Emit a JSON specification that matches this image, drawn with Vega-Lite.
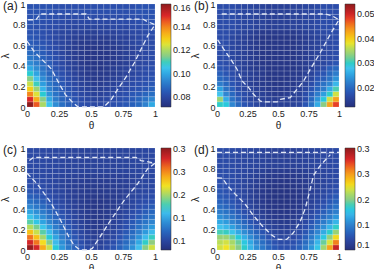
{
  "$schema": "https://vega.github.io/schema/vega-lite/v6.json",
  "padding": {"left": 0, "top": 0, "right": 0, "bottom": 0},
  "config": {
    "font": "Liberation Sans",
    "view": {"stroke": null},
    "axis": {"labelFontSize": 9, "titleFontSize": 10, "ticks": false, "domain": false, "grid": false, "labelColor": "#222222", "titleColor": "#222222", "labelPadding": 2, "titleFontWeight": "normal", "titlePadding": 2, "labelOverlap": false, "labelBound": false, "labelFlush": false, "labelExpr": "format(datum.value, '~g')"},
    "legend": {"type": "gradient", "direction": "vertical", "orient": "right", "offset": 3, "padding": 0, "gradientThickness": 10, "labelFontSize": 9, "labelColor": "#222222", "labelOffset": 2, "labelOverlap": false, "gradientStrokeColor": "#333333", "gradientStrokeWidth": 0.5, "title": null, "labelExpr": "format(datum.value, '~g')"},
    "title": {"anchor": "start", "frame": "group", "fontSize": 12, "fontWeight": "normal", "color": "#222222", "offset": 0}
  },
  "datasets": {
    "cells": [
      {"p":"a","l":0,"l2":0.05,"t":[0,0.05,0.1,0.15,0.2,0.25,0.3,0.35,0.4,0.45,0.5,0.55,0.6,0.65,0.7,0.75,0.8,0.85,0.9,0.95],"u":[0.05,0.1,0.15,0.2,0.25,0.3,0.35,0.4,0.45,0.5,0.55,0.6,0.65,0.7,0.75,0.8,0.85,0.9,0.95,1],"v":[0.160,0.145,0.120,0.105,0.095,0.089,0.086,0.084,0.082,0.081,0.080,0.080,0.081,0.082,0.083,0.084,0.086,0.088,0.093,0.100]},
      {"p":"a","l":0.05,"l2":0.1,"t":[0,0.05,0.1,0.15,0.2,0.25,0.3,0.35,0.4,0.45,0.5,0.55,0.6,0.65,0.7,0.75,0.8,0.85,0.9,0.95],"u":[0.05,0.1,0.15,0.2,0.25,0.3,0.35,0.4,0.45,0.5,0.55,0.6,0.65,0.7,0.75,0.8,0.85,0.9,0.95,1],"v":[0.150,0.135,0.115,0.100,0.092,0.087,0.085,0.083,0.081,0.080,0.079,0.079,0.080,0.081,0.082,0.083,0.085,0.087,0.090,0.094]},
      {"p":"a","l":0.1,"l2":0.15,"t":[0,0.05,0.1,0.15,0.2,0.25,0.3,0.35,0.4,0.45,0.5,0.55,0.6,0.65,0.7,0.75,0.8,0.85,0.9,0.95],"u":[0.05,0.1,0.15,0.2,0.25,0.3,0.35,0.4,0.45,0.5,0.55,0.6,0.65,0.7,0.75,0.8,0.85,0.9,0.95,1],"v":[0.140,0.125,0.108,0.096,0.090,0.086,0.084,0.082,0.080,0.079,0.078,0.078,0.079,0.080,0.081,0.082,0.084,0.085,0.087,0.089]},
      {"p":"a","l":0.15,"l2":0.2,"t":[0,0.05,0.1,0.15,0.2,0.25,0.3,0.35,0.4,0.45,0.5,0.55,0.6,0.65,0.7,0.75,0.8,0.85,0.9,0.95],"u":[0.05,0.1,0.15,0.2,0.25,0.3,0.35,0.4,0.45,0.5,0.55,0.6,0.65,0.7,0.75,0.8,0.85,0.9,0.95,1],"v":[0.130,0.118,0.102,0.093,0.088,0.085,0.083,0.081,0.079,0.078,0.077,0.077,0.078,0.079,0.080,0.081,0.082,0.083,0.084,0.086]},
      {"p":"a","l":0.2,"l2":0.25,"t":[0,0.05,0.1,0.15,0.2,0.25,0.3,0.35,0.4,0.45,0.5,0.55,0.6,0.65,0.7,0.75,0.8,0.85,0.9,0.95],"u":[0.05,0.1,0.15,0.2,0.25,0.3,0.35,0.4,0.45,0.5,0.55,0.6,0.65,0.7,0.75,0.8,0.85,0.9,0.95,1],"v":[0.123,0.110,0.098,0.091,0.087,0.084,0.082,0.080,0.078,0.077,0.076,0.076,0.077,0.078,0.079,0.080,0.081,0.082,0.083,0.084]},
      {"p":"a","l":0.25,"l2":0.3,"t":[0,0.05,0.1,0.15,0.2,0.25,0.3,0.35,0.4,0.45,0.5,0.55,0.6,0.65,0.7,0.75,0.8,0.85,0.9,0.95],"u":[0.05,0.1,0.15,0.2,0.25,0.3,0.35,0.4,0.45,0.5,0.55,0.6,0.65,0.7,0.75,0.8,0.85,0.9,0.95,1],"v":[0.115,0.104,0.095,0.089,0.086,0.083,0.081,0.079,0.077,0.076,0.075,0.075,0.076,0.077,0.078,0.079,0.080,0.081,0.082,0.083]},
      {"p":"a","l":0.3,"l2":0.35,"t":[0,0.05,0.1,0.15,0.2,0.25,0.3,0.35,0.4,0.45,0.5,0.55,0.6,0.65,0.7,0.75,0.8,0.85,0.9,0.95],"u":[0.05,0.1,0.15,0.2,0.25,0.3,0.35,0.4,0.45,0.5,0.55,0.6,0.65,0.7,0.75,0.8,0.85,0.9,0.95,1],"v":[0.108,0.099,0.092,0.087,0.084,0.082,0.080,0.078,0.076,0.075,0.075,0.075,0.075,0.076,0.077,0.078,0.079,0.080,0.081,0.082]},
      {"p":"a","l":0.35,"l2":0.4,"t":[0,0.05,0.1,0.15,0.2,0.25,0.3,0.35,0.4,0.45,0.5,0.55,0.6,0.65,0.7,0.75,0.8,0.85,0.9,0.95],"u":[0.05,0.1,0.15,0.2,0.25,0.3,0.35,0.4,0.45,0.5,0.55,0.6,0.65,0.7,0.75,0.8,0.85,0.9,0.95,1],"v":[0.100,0.095,0.090,0.086,0.083,0.081,0.079,0.077,0.076,0.075,0.074,0.074,0.075,0.076,0.077,0.078,0.079,0.080,0.081,0.082]},
      {"p":"a","l":0.4,"l2":0.45,"t":[0,0.05,0.1,0.15,0.2,0.25,0.3,0.35,0.4,0.45,0.5,0.55,0.6,0.65,0.7,0.75,0.8,0.85,0.9,0.95],"u":[0.05,0.1,0.15,0.2,0.25,0.3,0.35,0.4,0.45,0.5,0.55,0.6,0.65,0.7,0.75,0.8,0.85,0.9,0.95,1],"v":[0.095,0.092,0.088,0.085,0.082,0.080,0.078,0.077,0.075,0.074,0.074,0.074,0.075,0.075,0.076,0.077,0.078,0.079,0.080,0.081]},
      {"p":"a","l":0.45,"l2":0.5,"t":[0,0.05,0.1,0.15,0.2,0.25,0.3,0.35,0.4,0.45,0.5,0.55,0.6,0.65,0.7,0.75,0.8,0.85,0.9,0.95],"u":[0.05,0.1,0.15,0.2,0.25,0.3,0.35,0.4,0.45,0.5,0.55,0.6,0.65,0.7,0.75,0.8,0.85,0.9,0.95,1],"v":[0.091,0.089,0.086,0.084,0.082,0.080,0.078,0.076,0.075,0.074,0.074,0.074,0.074,0.075,0.076,0.077,0.078,0.079,0.080,0.081]},
      {"p":"a","l":0.5,"l2":0.55,"t":[0,0.05,0.1,0.15,0.2,0.25,0.3,0.35,0.4,0.45,0.5,0.55,0.6,0.65,0.7,0.75,0.8,0.85,0.9,0.95],"u":[0.05,0.1,0.15,0.2,0.25,0.3,0.35,0.4,0.45,0.5,0.55,0.6,0.65,0.7,0.75,0.8,0.85,0.9,0.95,1],"v":[0.088,0.087,0.085,0.083,0.081,0.079,0.077,0.076,0.075,0.074,0.074,0.074,0.074,0.075,0.076,0.077,0.078,0.079,0.080,0.081]},
      {"p":"a","l":0.55,"l2":0.6,"t":[0,0.05,0.1,0.15,0.2,0.25,0.3,0.35,0.4,0.45,0.5,0.55,0.6,0.65,0.7,0.75,0.8,0.85,0.9,0.95],"u":[0.05,0.1,0.15,0.2,0.25,0.3,0.35,0.4,0.45,0.5,0.55,0.6,0.65,0.7,0.75,0.8,0.85,0.9,0.95,1],"v":[0.086,0.085,0.084,0.082,0.081,0.079,0.077,0.076,0.075,0.074,0.074,0.074,0.075,0.075,0.076,0.077,0.078,0.079,0.080,0.081]},
      {"p":"a","l":0.6,"l2":0.65,"t":[0,0.05,0.1,0.15,0.2,0.25,0.3,0.35,0.4,0.45,0.5,0.55,0.6,0.65,0.7,0.75,0.8,0.85,0.9,0.95],"u":[0.05,0.1,0.15,0.2,0.25,0.3,0.35,0.4,0.45,0.5,0.55,0.6,0.65,0.7,0.75,0.8,0.85,0.9,0.95,1],"v":[0.085,0.084,0.083,0.082,0.080,0.079,0.078,0.076,0.075,0.075,0.075,0.075,0.075,0.076,0.077,0.078,0.079,0.080,0.080,0.081]},
      {"p":"a","l":0.65,"l2":0.7,"t":[0,0.05,0.1,0.15,0.2,0.25,0.3,0.35,0.4,0.45,0.5,0.55,0.6,0.65,0.7,0.75,0.8,0.85,0.9,0.95],"u":[0.05,0.1,0.15,0.2,0.25,0.3,0.35,0.4,0.45,0.5,0.55,0.6,0.65,0.7,0.75,0.8,0.85,0.9,0.95,1],"v":[0.084,0.083,0.082,0.081,0.080,0.079,0.078,0.077,0.076,0.076,0.076,0.076,0.076,0.077,0.078,0.078,0.079,0.080,0.081,0.081]},
      {"p":"a","l":0.7,"l2":0.75,"t":[0,0.05,0.1,0.15,0.2,0.25,0.3,0.35,0.4,0.45,0.5,0.55,0.6,0.65,0.7,0.75,0.8,0.85,0.9,0.95],"u":[0.05,0.1,0.15,0.2,0.25,0.3,0.35,0.4,0.45,0.5,0.55,0.6,0.65,0.7,0.75,0.8,0.85,0.9,0.95,1],"v":[0.083,0.083,0.082,0.081,0.080,0.079,0.079,0.078,0.078,0.077,0.077,0.078,0.078,0.078,0.079,0.079,0.080,0.080,0.081,0.082]},
      {"p":"a","l":0.75,"l2":0.8,"t":[0,0.05,0.1,0.15,0.2,0.25,0.3,0.35,0.4,0.45,0.5,0.55,0.6,0.65,0.7,0.75,0.8,0.85,0.9,0.95],"u":[0.05,0.1,0.15,0.2,0.25,0.3,0.35,0.4,0.45,0.5,0.55,0.6,0.65,0.7,0.75,0.8,0.85,0.9,0.95,1],"v":[0.083,0.082,0.082,0.081,0.081,0.080,0.080,0.079,0.079,0.079,0.079,0.079,0.079,0.080,0.080,0.080,0.081,0.081,0.082,0.082]},
      {"p":"a","l":0.8,"l2":0.85,"t":[0,0.05,0.1,0.15,0.2,0.25,0.3,0.35,0.4,0.45,0.5,0.55,0.6,0.65,0.7,0.75,0.8,0.85,0.9,0.95],"u":[0.05,0.1,0.15,0.2,0.25,0.3,0.35,0.4,0.45,0.5,0.55,0.6,0.65,0.7,0.75,0.8,0.85,0.9,0.95,1],"v":[0.083,0.083,0.082,0.082,0.081,0.081,0.080,0.080,0.080,0.080,0.080,0.080,0.080,0.080,0.081,0.081,0.081,0.082,0.082,0.083]},
      {"p":"a","l":0.85,"l2":0.9,"t":[0,0.05,0.1,0.15,0.2,0.25,0.3,0.35,0.4,0.45,0.5,0.55,0.6,0.65,0.7,0.75,0.8,0.85,0.9,0.95],"u":[0.05,0.1,0.15,0.2,0.25,0.3,0.35,0.4,0.45,0.5,0.55,0.6,0.65,0.7,0.75,0.8,0.85,0.9,0.95,1],"v":[0.083,0.083,0.083,0.082,0.082,0.081,0.081,0.081,0.081,0.081,0.081,0.081,0.081,0.081,0.081,0.082,0.082,0.082,0.083,0.083]},
      {"p":"a","l":0.9,"l2":0.95,"t":[0,0.05,0.1,0.15,0.2,0.25,0.3,0.35,0.4,0.45,0.5,0.55,0.6,0.65,0.7,0.75,0.8,0.85,0.9,0.95],"u":[0.05,0.1,0.15,0.2,0.25,0.3,0.35,0.4,0.45,0.5,0.55,0.6,0.65,0.7,0.75,0.8,0.85,0.9,0.95,1],"v":[0.083,0.083,0.083,0.083,0.082,0.082,0.082,0.082,0.082,0.082,0.082,0.082,0.082,0.082,0.082,0.082,0.082,0.083,0.083,0.083]},
      {"p":"a","l":0.95,"l2":1,"t":[0,0.05,0.1,0.15,0.2,0.25,0.3,0.35,0.4,0.45,0.5,0.55,0.6,0.65,0.7,0.75,0.8,0.85,0.9,0.95],"u":[0.05,0.1,0.15,0.2,0.25,0.3,0.35,0.4,0.45,0.5,0.55,0.6,0.65,0.7,0.75,0.8,0.85,0.9,0.95,1],"v":[0.083,0.083,0.083,0.083,0.082,0.082,0.082,0.082,0.082,0.082,0.082,0.082,0.082,0.082,0.082,0.082,0.082,0.083,0.083,0.083]},

      {"p":"b","l":0,"l2":0.05,"t":[0,0.05,0.1,0.15,0.2,0.25,0.3,0.35,0.4,0.45,0.5,0.55,0.6,0.65,0.7,0.75,0.8,0.85,0.9,0.95],"u":[0.05,0.1,0.15,0.2,0.25,0.3,0.35,0.4,0.45,0.5,0.55,0.6,0.65,0.7,0.75,0.8,0.85,0.9,0.95,1],"v":[0.030,0.029,0.023,0.020,0.018,0.017,0.016,0.0155,0.015,0.015,0.015,0.015,0.0155,0.016,0.018,0.021,0.026,0.033,0.043,0.048]},
      {"p":"b","l":0.05,"l2":0.1,"t":[0,0.05,0.1,0.15,0.2,0.25,0.3,0.35,0.4,0.45,0.5,0.55,0.6,0.65,0.7,0.75,0.8,0.85,0.9,0.95],"u":[0.05,0.1,0.15,0.2,0.25,0.3,0.35,0.4,0.45,0.5,0.55,0.6,0.65,0.7,0.75,0.8,0.85,0.9,0.95,1],"v":[0.034,0.026,0.021,0.019,0.017,0.016,0.0155,0.015,0.015,0.0145,0.0145,0.015,0.015,0.0155,0.017,0.020,0.024,0.029,0.037,0.043]},
      {"p":"b","l":0.1,"l2":0.15,"t":[0,0.05,0.1,0.15,0.2,0.25,0.3,0.35,0.4,0.45,0.5,0.55,0.6,0.65,0.7,0.75,0.8,0.85,0.9,0.95],"u":[0.05,0.1,0.15,0.2,0.25,0.3,0.35,0.4,0.45,0.5,0.55,0.6,0.65,0.7,0.75,0.8,0.85,0.9,0.95,1],"v":[0.028,0.023,0.020,0.018,0.017,0.016,0.015,0.015,0.0145,0.014,0.014,0.0145,0.015,0.0155,0.017,0.019,0.022,0.025,0.030,0.037]},
      {"p":"b","l":0.15,"l2":0.2,"t":[0,0.05,0.1,0.15,0.2,0.25,0.3,0.35,0.4,0.45,0.5,0.55,0.6,0.65,0.7,0.75,0.8,0.85,0.9,0.95],"u":[0.05,0.1,0.15,0.2,0.25,0.3,0.35,0.4,0.45,0.5,0.55,0.6,0.65,0.7,0.75,0.8,0.85,0.9,0.95,1],"v":[0.025,0.021,0.019,0.017,0.016,0.0155,0.015,0.0145,0.014,0.014,0.014,0.014,0.0145,0.015,0.016,0.018,0.020,0.022,0.026,0.031]},
      {"p":"b","l":0.2,"l2":0.25,"t":[0,0.05,0.1,0.15,0.2,0.25,0.3,0.35,0.4,0.45,0.5,0.55,0.6,0.65,0.7,0.75,0.8,0.85,0.9,0.95],"u":[0.05,0.1,0.15,0.2,0.25,0.3,0.35,0.4,0.45,0.5,0.55,0.6,0.65,0.7,0.75,0.8,0.85,0.9,0.95,1],"v":[0.022,0.020,0.018,0.017,0.016,0.015,0.0145,0.014,0.014,0.0135,0.0135,0.014,0.014,0.0145,0.0155,0.017,0.019,0.021,0.023,0.027]},
      {"p":"b","l":0.25,"l2":0.3,"t":[0,0.05,0.1,0.15,0.2,0.25,0.3,0.35,0.4,0.45,0.5,0.55,0.6,0.65,0.7,0.75,0.8,0.85,0.9,0.95],"u":[0.05,0.1,0.15,0.2,0.25,0.3,0.35,0.4,0.45,0.5,0.55,0.6,0.65,0.7,0.75,0.8,0.85,0.9,0.95,1],"v":[0.020,0.019,0.0175,0.0165,0.0155,0.015,0.0145,0.014,0.0135,0.0135,0.0135,0.0135,0.014,0.0145,0.015,0.016,0.018,0.019,0.021,0.024]},
      {"p":"b","l":0.3,"l2":0.35,"t":[0,0.05,0.1,0.15,0.2,0.25,0.3,0.35,0.4,0.45,0.5,0.55,0.6,0.65,0.7,0.75,0.8,0.85,0.9,0.95],"u":[0.05,0.1,0.15,0.2,0.25,0.3,0.35,0.4,0.45,0.5,0.55,0.6,0.65,0.7,0.75,0.8,0.85,0.9,0.95,1],"v":[0.019,0.018,0.017,0.016,0.0155,0.015,0.0145,0.014,0.0135,0.0135,0.0135,0.0135,0.014,0.014,0.015,0.0155,0.017,0.018,0.020,0.022]},
      {"p":"b","l":0.35,"l2":0.4,"t":[0,0.05,0.1,0.15,0.2,0.25,0.3,0.35,0.4,0.45,0.5,0.55,0.6,0.65,0.7,0.75,0.8,0.85,0.9,0.95],"u":[0.05,0.1,0.15,0.2,0.25,0.3,0.35,0.4,0.45,0.5,0.55,0.6,0.65,0.7,0.75,0.8,0.85,0.9,0.95,1],"v":[0.018,0.0175,0.0165,0.016,0.015,0.0145,0.014,0.014,0.0135,0.0135,0.0135,0.0135,0.0135,0.014,0.0145,0.015,0.016,0.017,0.019,0.020]},
      {"p":"b","l":0.4,"l2":0.45,"t":[0,0.05,0.1,0.15,0.2,0.25,0.3,0.35,0.4,0.45,0.5,0.55,0.6,0.65,0.7,0.75,0.8,0.85,0.9,0.95],"u":[0.05,0.1,0.15,0.2,0.25,0.3,0.35,0.4,0.45,0.5,0.55,0.6,0.65,0.7,0.75,0.8,0.85,0.9,0.95,1],"v":[0.0175,0.017,0.0165,0.0155,0.015,0.0145,0.014,0.0135,0.0135,0.0135,0.0135,0.0135,0.0135,0.014,0.0145,0.015,0.0155,0.016,0.017,0.018]},
      {"p":"b","l":0.45,"l2":0.5,"t":[0,0.05,0.1,0.15,0.2,0.25,0.3,0.35,0.4,0.45,0.5,0.55,0.6,0.65,0.7,0.75,0.8,0.85,0.9,0.95],"u":[0.05,0.1,0.15,0.2,0.25,0.3,0.35,0.4,0.45,0.5,0.55,0.6,0.65,0.7,0.75,0.8,0.85,0.9,0.95,1],"v":[0.017,0.017,0.016,0.0155,0.015,0.0145,0.014,0.0135,0.0135,0.0135,0.0135,0.0135,0.0135,0.014,0.0145,0.015,0.0155,0.016,0.0165,0.017]},
      {"p":"b","l":0.5,"l2":0.55,"t":[0,0.05,0.1,0.15,0.2,0.25,0.3,0.35,0.4,0.45,0.5,0.55,0.6,0.65,0.7,0.75,0.8,0.85,0.9,0.95],"u":[0.05,0.1,0.15,0.2,0.25,0.3,0.35,0.4,0.45,0.5,0.55,0.6,0.65,0.7,0.75,0.8,0.85,0.9,0.95,1],"v":[0.017,0.017,0.016,0.0155,0.015,0.0145,0.014,0.0135,0.0135,0.0135,0.0135,0.0135,0.0135,0.014,0.0145,0.015,0.0155,0.016,0.0165,0.017]},
      {"p":"b","l":0.55,"l2":0.6,"t":[0,0.05,0.1,0.15,0.2,0.25,0.3,0.35,0.4,0.45,0.5,0.55,0.6,0.65,0.7,0.75,0.8,0.85,0.9,0.95],"u":[0.05,0.1,0.15,0.2,0.25,0.3,0.35,0.4,0.45,0.5,0.55,0.6,0.65,0.7,0.75,0.8,0.85,0.9,0.95,1],"v":[0.017,0.017,0.016,0.0155,0.015,0.0145,0.014,0.0135,0.0135,0.0135,0.0135,0.0135,0.0135,0.014,0.0145,0.015,0.0155,0.016,0.0165,0.017]},
      {"p":"b","l":0.6,"l2":0.65,"t":[0,0.05,0.1,0.15,0.2,0.25,0.3,0.35,0.4,0.45,0.5,0.55,0.6,0.65,0.7,0.75,0.8,0.85,0.9,0.95],"u":[0.05,0.1,0.15,0.2,0.25,0.3,0.35,0.4,0.45,0.5,0.55,0.6,0.65,0.7,0.75,0.8,0.85,0.9,0.95,1],"v":[0.017,0.017,0.016,0.0155,0.015,0.0145,0.014,0.0135,0.0135,0.0135,0.0135,0.0135,0.0135,0.014,0.0145,0.015,0.0155,0.016,0.0165,0.017]},
      {"p":"b","l":0.65,"l2":0.7,"t":[0,0.05,0.1,0.15,0.2,0.25,0.3,0.35,0.4,0.45,0.5,0.55,0.6,0.65,0.7,0.75,0.8,0.85,0.9,0.95],"u":[0.05,0.1,0.15,0.2,0.25,0.3,0.35,0.4,0.45,0.5,0.55,0.6,0.65,0.7,0.75,0.8,0.85,0.9,0.95,1],"v":[0.017,0.017,0.016,0.0155,0.015,0.0145,0.014,0.0135,0.0135,0.0135,0.0135,0.0135,0.0135,0.014,0.0145,0.015,0.0155,0.016,0.0165,0.017]},
      {"p":"b","l":0.7,"l2":0.75,"t":[0,0.05,0.1,0.15,0.2,0.25,0.3,0.35,0.4,0.45,0.5,0.55,0.6,0.65,0.7,0.75,0.8,0.85,0.9,0.95],"u":[0.05,0.1,0.15,0.2,0.25,0.3,0.35,0.4,0.45,0.5,0.55,0.6,0.65,0.7,0.75,0.8,0.85,0.9,0.95,1],"v":[0.017,0.017,0.0165,0.016,0.0155,0.015,0.0145,0.014,0.014,0.014,0.014,0.014,0.014,0.0145,0.015,0.0155,0.016,0.0165,0.017,0.017]},
      {"p":"b","l":0.75,"l2":0.8,"t":[0,0.05,0.1,0.15,0.2,0.25,0.3,0.35,0.4,0.45,0.5,0.55,0.6,0.65,0.7,0.75,0.8,0.85,0.9,0.95],"u":[0.05,0.1,0.15,0.2,0.25,0.3,0.35,0.4,0.45,0.5,0.55,0.6,0.65,0.7,0.75,0.8,0.85,0.9,0.95,1],"v":[0.017,0.017,0.017,0.0165,0.016,0.016,0.0155,0.0155,0.015,0.015,0.015,0.015,0.0155,0.0155,0.016,0.016,0.0165,0.017,0.017,0.017]},
      {"p":"b","l":0.8,"l2":0.85,"t":[0,0.05,0.1,0.15,0.2,0.25,0.3,0.35,0.4,0.45,0.5,0.55,0.6,0.65,0.7,0.75,0.8,0.85,0.9,0.95],"u":[0.05,0.1,0.15,0.2,0.25,0.3,0.35,0.4,0.45,0.5,0.55,0.6,0.65,0.7,0.75,0.8,0.85,0.9,0.95,1],"v":[0.017,0.017,0.017,0.0165,0.016,0.016,0.0155,0.0155,0.015,0.015,0.015,0.015,0.0155,0.0155,0.016,0.016,0.0165,0.017,0.017,0.017]},
      {"p":"b","l":0.85,"l2":0.9,"t":[0,0.05,0.1,0.15,0.2,0.25,0.3,0.35,0.4,0.45,0.5,0.55,0.6,0.65,0.7,0.75,0.8,0.85,0.9,0.95],"u":[0.05,0.1,0.15,0.2,0.25,0.3,0.35,0.4,0.45,0.5,0.55,0.6,0.65,0.7,0.75,0.8,0.85,0.9,0.95,1],"v":[0.017,0.017,0.017,0.0165,0.016,0.016,0.0155,0.0155,0.015,0.015,0.015,0.015,0.0155,0.0155,0.016,0.016,0.0165,0.017,0.017,0.017]},
      {"p":"b","l":0.9,"l2":0.95,"t":[0,0.05,0.1,0.15,0.2,0.25,0.3,0.35,0.4,0.45,0.5,0.55,0.6,0.65,0.7,0.75,0.8,0.85,0.9,0.95],"u":[0.05,0.1,0.15,0.2,0.25,0.3,0.35,0.4,0.45,0.5,0.55,0.6,0.65,0.7,0.75,0.8,0.85,0.9,0.95,1],"v":[0.017,0.017,0.017,0.0165,0.016,0.016,0.0155,0.0155,0.015,0.015,0.015,0.015,0.0155,0.0155,0.016,0.016,0.0165,0.017,0.017,0.017]},
      {"p":"b","l":0.95,"l2":1,"t":[0,0.05,0.1,0.15,0.2,0.25,0.3,0.35,0.4,0.45,0.5,0.55,0.6,0.65,0.7,0.75,0.8,0.85,0.9,0.95],"u":[0.05,0.1,0.15,0.2,0.25,0.3,0.35,0.4,0.45,0.5,0.55,0.6,0.65,0.7,0.75,0.8,0.85,0.9,0.95,1],"v":[0.017,0.017,0.017,0.0165,0.016,0.016,0.0155,0.0155,0.015,0.015,0.015,0.015,0.0155,0.0155,0.016,0.016,0.0165,0.017,0.017,0.017]},

      {"p":"c","l":0,"l2":0.05,"t":[0,0.05,0.1,0.15,0.2,0.25,0.3,0.35,0.4,0.45,0.5,0.55,0.6,0.65,0.7,0.75,0.8,0.85,0.9,0.95],"u":[0.05,0.1,0.15,0.2,0.25,0.3,0.35,0.4,0.45,0.5,0.55,0.6,0.65,0.7,0.75,0.8,0.85,0.9,0.95,1],"v":[0.300,0.280,0.240,0.210,0.170,0.145,0.130,0.118,0.110,0.102,0.098,0.098,0.103,0.110,0.118,0.128,0.142,0.162,0.190,0.212]},
      {"p":"c","l":0.05,"l2":0.1,"t":[0,0.05,0.1,0.15,0.2,0.25,0.3,0.35,0.4,0.45,0.5,0.55,0.6,0.65,0.7,0.75,0.8,0.85,0.9,0.95],"u":[0.05,0.1,0.15,0.2,0.25,0.3,0.35,0.4,0.45,0.5,0.55,0.6,0.65,0.7,0.75,0.8,0.85,0.9,0.95,1],"v":[0.280,0.258,0.222,0.190,0.160,0.140,0.125,0.115,0.106,0.100,0.096,0.096,0.100,0.106,0.114,0.122,0.135,0.152,0.175,0.192]},
      {"p":"c","l":0.1,"l2":0.15,"t":[0,0.05,0.1,0.15,0.2,0.25,0.3,0.35,0.4,0.45,0.5,0.55,0.6,0.65,0.7,0.75,0.8,0.85,0.9,0.95],"u":[0.05,0.1,0.15,0.2,0.25,0.3,0.35,0.4,0.45,0.5,0.55,0.6,0.65,0.7,0.75,0.8,0.85,0.9,0.95,1],"v":[0.258,0.232,0.200,0.172,0.150,0.132,0.120,0.111,0.103,0.098,0.094,0.094,0.097,0.102,0.109,0.117,0.127,0.142,0.160,0.176]},
      {"p":"c","l":0.15,"l2":0.2,"t":[0,0.05,0.1,0.15,0.2,0.25,0.3,0.35,0.4,0.45,0.5,0.55,0.6,0.65,0.7,0.75,0.8,0.85,0.9,0.95],"u":[0.05,0.1,0.15,0.2,0.25,0.3,0.35,0.4,0.45,0.5,0.55,0.6,0.65,0.7,0.75,0.8,0.85,0.9,0.95,1],"v":[0.232,0.210,0.182,0.160,0.140,0.126,0.116,0.107,0.100,0.095,0.092,0.092,0.095,0.099,0.105,0.112,0.121,0.133,0.146,0.160]},
      {"p":"c","l":0.2,"l2":0.25,"t":[0,0.05,0.1,0.15,0.2,0.25,0.3,0.35,0.4,0.45,0.5,0.55,0.6,0.65,0.7,0.75,0.8,0.85,0.9,0.95],"u":[0.05,0.1,0.15,0.2,0.25,0.3,0.35,0.4,0.45,0.5,0.55,0.6,0.65,0.7,0.75,0.8,0.85,0.9,0.95,1],"v":[0.205,0.187,0.165,0.147,0.132,0.121,0.112,0.104,0.098,0.093,0.090,0.090,0.093,0.097,0.102,0.108,0.116,0.126,0.136,0.146]},
      {"p":"c","l":0.25,"l2":0.3,"t":[0,0.05,0.1,0.15,0.2,0.25,0.3,0.35,0.4,0.45,0.5,0.55,0.6,0.65,0.7,0.75,0.8,0.85,0.9,0.95],"u":[0.05,0.1,0.15,0.2,0.25,0.3,0.35,0.4,0.45,0.5,0.55,0.6,0.65,0.7,0.75,0.8,0.85,0.9,0.95,1],"v":[0.182,0.167,0.150,0.136,0.125,0.116,0.108,0.101,0.096,0.092,0.089,0.089,0.091,0.095,0.099,0.105,0.112,0.120,0.128,0.136]},
      {"p":"c","l":0.3,"l2":0.35,"t":[0,0.05,0.1,0.15,0.2,0.25,0.3,0.35,0.4,0.45,0.5,0.55,0.6,0.65,0.7,0.75,0.8,0.85,0.9,0.95],"u":[0.05,0.1,0.15,0.2,0.25,0.3,0.35,0.4,0.45,0.5,0.55,0.6,0.65,0.7,0.75,0.8,0.85,0.9,0.95,1],"v":[0.165,0.152,0.140,0.128,0.119,0.111,0.105,0.099,0.094,0.091,0.088,0.088,0.090,0.093,0.097,0.102,0.108,0.114,0.121,0.127]},
      {"p":"c","l":0.35,"l2":0.4,"t":[0,0.05,0.1,0.15,0.2,0.25,0.3,0.35,0.4,0.45,0.5,0.55,0.6,0.65,0.7,0.75,0.8,0.85,0.9,0.95],"u":[0.05,0.1,0.15,0.2,0.25,0.3,0.35,0.4,0.45,0.5,0.55,0.6,0.65,0.7,0.75,0.8,0.85,0.9,0.95,1],"v":[0.150,0.141,0.131,0.121,0.114,0.107,0.102,0.097,0.093,0.090,0.088,0.088,0.089,0.092,0.095,0.099,0.104,0.109,0.115,0.120]},
      {"p":"c","l":0.4,"l2":0.45,"t":[0,0.05,0.1,0.15,0.2,0.25,0.3,0.35,0.4,0.45,0.5,0.55,0.6,0.65,0.7,0.75,0.8,0.85,0.9,0.95],"u":[0.05,0.1,0.15,0.2,0.25,0.3,0.35,0.4,0.45,0.5,0.55,0.6,0.65,0.7,0.75,0.8,0.85,0.9,0.95,1],"v":[0.137,0.130,0.122,0.115,0.109,0.104,0.099,0.095,0.092,0.089,0.087,0.087,0.089,0.091,0.094,0.097,0.101,0.106,0.110,0.114]},
      {"p":"c","l":0.45,"l2":0.5,"t":[0,0.05,0.1,0.15,0.2,0.25,0.3,0.35,0.4,0.45,0.5,0.55,0.6,0.65,0.7,0.75,0.8,0.85,0.9,0.95],"u":[0.05,0.1,0.15,0.2,0.25,0.3,0.35,0.4,0.45,0.5,0.55,0.6,0.65,0.7,0.75,0.8,0.85,0.9,0.95,1],"v":[0.126,0.121,0.115,0.110,0.105,0.101,0.097,0.094,0.091,0.089,0.087,0.087,0.088,0.090,0.093,0.096,0.099,0.103,0.106,0.109]},
      {"p":"c","l":0.5,"l2":0.55,"t":[0,0.05,0.1,0.15,0.2,0.25,0.3,0.35,0.4,0.45,0.5,0.55,0.6,0.65,0.7,0.75,0.8,0.85,0.9,0.95],"u":[0.05,0.1,0.15,0.2,0.25,0.3,0.35,0.4,0.45,0.5,0.55,0.6,0.65,0.7,0.75,0.8,0.85,0.9,0.95,1],"v":[0.117,0.114,0.110,0.106,0.102,0.099,0.096,0.093,0.091,0.089,0.088,0.088,0.089,0.090,0.092,0.095,0.098,0.101,0.103,0.105]},
      {"p":"c","l":0.55,"l2":0.6,"t":[0,0.05,0.1,0.15,0.2,0.25,0.3,0.35,0.4,0.45,0.5,0.55,0.6,0.65,0.7,0.75,0.8,0.85,0.9,0.95],"u":[0.05,0.1,0.15,0.2,0.25,0.3,0.35,0.4,0.45,0.5,0.55,0.6,0.65,0.7,0.75,0.8,0.85,0.9,0.95,1],"v":[0.111,0.109,0.106,0.103,0.100,0.098,0.095,0.093,0.091,0.090,0.089,0.089,0.090,0.091,0.092,0.094,0.097,0.099,0.101,0.103]},
      {"p":"c","l":0.6,"l2":0.65,"t":[0,0.05,0.1,0.15,0.2,0.25,0.3,0.35,0.4,0.45,0.5,0.55,0.6,0.65,0.7,0.75,0.8,0.85,0.9,0.95],"u":[0.05,0.1,0.15,0.2,0.25,0.3,0.35,0.4,0.45,0.5,0.55,0.6,0.65,0.7,0.75,0.8,0.85,0.9,0.95,1],"v":[0.107,0.106,0.104,0.102,0.099,0.097,0.095,0.093,0.092,0.091,0.090,0.090,0.091,0.092,0.093,0.094,0.096,0.098,0.100,0.101]},
      {"p":"c","l":0.65,"l2":0.7,"t":[0,0.05,0.1,0.15,0.2,0.25,0.3,0.35,0.4,0.45,0.5,0.55,0.6,0.65,0.7,0.75,0.8,0.85,0.9,0.95],"u":[0.05,0.1,0.15,0.2,0.25,0.3,0.35,0.4,0.45,0.5,0.55,0.6,0.65,0.7,0.75,0.8,0.85,0.9,0.95,1],"v":[0.105,0.104,0.103,0.101,0.099,0.097,0.096,0.094,0.093,0.092,0.092,0.092,0.092,0.093,0.094,0.095,0.096,0.098,0.099,0.100]},
      {"p":"c","l":0.7,"l2":0.75,"t":[0,0.05,0.1,0.15,0.2,0.25,0.3,0.35,0.4,0.45,0.5,0.55,0.6,0.65,0.7,0.75,0.8,0.85,0.9,0.95],"u":[0.05,0.1,0.15,0.2,0.25,0.3,0.35,0.4,0.45,0.5,0.55,0.6,0.65,0.7,0.75,0.8,0.85,0.9,0.95,1],"v":[0.104,0.103,0.102,0.101,0.099,0.098,0.097,0.096,0.095,0.094,0.094,0.094,0.094,0.095,0.095,0.096,0.097,0.098,0.099,0.100]},
      {"p":"c","l":0.75,"l2":0.8,"t":[0,0.05,0.1,0.15,0.2,0.25,0.3,0.35,0.4,0.45,0.5,0.55,0.6,0.65,0.7,0.75,0.8,0.85,0.9,0.95],"u":[0.05,0.1,0.15,0.2,0.25,0.3,0.35,0.4,0.45,0.5,0.55,0.6,0.65,0.7,0.75,0.8,0.85,0.9,0.95,1],"v":[0.103,0.102,0.102,0.101,0.100,0.099,0.098,0.098,0.097,0.097,0.097,0.097,0.097,0.097,0.098,0.098,0.099,0.099,0.100,0.101]},
      {"p":"c","l":0.8,"l2":0.85,"t":[0,0.05,0.1,0.15,0.2,0.25,0.3,0.35,0.4,0.45,0.5,0.55,0.6,0.65,0.7,0.75,0.8,0.85,0.9,0.95],"u":[0.05,0.1,0.15,0.2,0.25,0.3,0.35,0.4,0.45,0.5,0.55,0.6,0.65,0.7,0.75,0.8,0.85,0.9,0.95,1],"v":[0.103,0.102,0.102,0.101,0.100,0.099,0.098,0.098,0.097,0.097,0.097,0.097,0.097,0.097,0.098,0.098,0.099,0.099,0.100,0.101]},
      {"p":"c","l":0.85,"l2":0.9,"t":[0,0.05,0.1,0.15,0.2,0.25,0.3,0.35,0.4,0.45,0.5,0.55,0.6,0.65,0.7,0.75,0.8,0.85,0.9,0.95],"u":[0.05,0.1,0.15,0.2,0.25,0.3,0.35,0.4,0.45,0.5,0.55,0.6,0.65,0.7,0.75,0.8,0.85,0.9,0.95,1],"v":[0.103,0.102,0.102,0.101,0.100,0.099,0.098,0.098,0.097,0.097,0.097,0.097,0.097,0.097,0.098,0.098,0.099,0.099,0.100,0.101]},
      {"p":"c","l":0.9,"l2":0.95,"t":[0,0.05,0.1,0.15,0.2,0.25,0.3,0.35,0.4,0.45,0.5,0.55,0.6,0.65,0.7,0.75,0.8,0.85,0.9,0.95],"u":[0.05,0.1,0.15,0.2,0.25,0.3,0.35,0.4,0.45,0.5,0.55,0.6,0.65,0.7,0.75,0.8,0.85,0.9,0.95,1],"v":[0.103,0.102,0.102,0.101,0.100,0.099,0.098,0.098,0.097,0.097,0.097,0.097,0.097,0.097,0.098,0.098,0.099,0.099,0.100,0.101]},
      {"p":"c","l":0.95,"l2":1,"t":[0,0.05,0.1,0.15,0.2,0.25,0.3,0.35,0.4,0.45,0.5,0.55,0.6,0.65,0.7,0.75,0.8,0.85,0.9,0.95],"u":[0.05,0.1,0.15,0.2,0.25,0.3,0.35,0.4,0.45,0.5,0.55,0.6,0.65,0.7,0.75,0.8,0.85,0.9,0.95,1],"v":[0.103,0.102,0.102,0.101,0.100,0.099,0.098,0.098,0.097,0.097,0.097,0.097,0.097,0.097,0.098,0.098,0.099,0.099,0.100,0.101]},

      {"p":"d","l":0,"l2":0.05,"t":[0,0.05,0.1,0.15,0.2,0.25,0.3,0.35,0.4,0.45,0.5,0.55,0.6,0.65,0.7,0.75,0.8,0.85,0.9,0.95],"u":[0.05,0.1,0.15,0.2,0.25,0.3,0.35,0.4,0.45,0.5,0.55,0.6,0.65,0.7,0.75,0.8,0.85,0.9,0.95,1],"v":[0.220,0.226,0.216,0.200,0.185,0.170,0.155,0.145,0.136,0.129,0.125,0.125,0.128,0.134,0.144,0.158,0.178,0.208,0.248,0.285]},
      {"p":"d","l":0.05,"l2":0.1,"t":[0,0.05,0.1,0.15,0.2,0.25,0.3,0.35,0.4,0.45,0.5,0.55,0.6,0.65,0.7,0.75,0.8,0.85,0.9,0.95],"u":[0.05,0.1,0.15,0.2,0.25,0.3,0.35,0.4,0.45,0.5,0.55,0.6,0.65,0.7,0.75,0.8,0.85,0.9,0.95,1],"v":[0.215,0.220,0.210,0.195,0.180,0.165,0.150,0.140,0.132,0.126,0.122,0.122,0.125,0.130,0.139,0.152,0.170,0.195,0.222,0.258]},
      {"p":"d","l":0.1,"l2":0.15,"t":[0,0.05,0.1,0.15,0.2,0.25,0.3,0.35,0.4,0.45,0.5,0.55,0.6,0.65,0.7,0.75,0.8,0.85,0.9,0.95],"u":[0.05,0.1,0.15,0.2,0.25,0.3,0.35,0.4,0.45,0.5,0.55,0.6,0.65,0.7,0.75,0.8,0.85,0.9,0.95,1],"v":[0.205,0.206,0.196,0.182,0.167,0.154,0.142,0.133,0.126,0.121,0.118,0.118,0.120,0.125,0.133,0.145,0.160,0.180,0.203,0.230]},
      {"p":"d","l":0.15,"l2":0.2,"t":[0,0.05,0.1,0.15,0.2,0.25,0.3,0.35,0.4,0.45,0.5,0.55,0.6,0.65,0.7,0.75,0.8,0.85,0.9,0.95],"u":[0.05,0.1,0.15,0.2,0.25,0.3,0.35,0.4,0.45,0.5,0.55,0.6,0.65,0.7,0.75,0.8,0.85,0.9,0.95,1],"v":[0.190,0.187,0.177,0.165,0.154,0.144,0.135,0.127,0.121,0.117,0.115,0.115,0.117,0.121,0.128,0.138,0.151,0.166,0.185,0.205]},
      {"p":"d","l":0.2,"l2":0.25,"t":[0,0.05,0.1,0.15,0.2,0.25,0.3,0.35,0.4,0.45,0.5,0.55,0.6,0.65,0.7,0.75,0.8,0.85,0.9,0.95],"u":[0.05,0.1,0.15,0.2,0.25,0.3,0.35,0.4,0.45,0.5,0.55,0.6,0.65,0.7,0.75,0.8,0.85,0.9,0.95,1],"v":[0.176,0.171,0.162,0.152,0.143,0.135,0.128,0.122,0.117,0.114,0.112,0.112,0.114,0.118,0.124,0.132,0.143,0.155,0.170,0.186]},
      {"p":"d","l":0.25,"l2":0.3,"t":[0,0.05,0.1,0.15,0.2,0.25,0.3,0.35,0.4,0.45,0.5,0.55,0.6,0.65,0.7,0.75,0.8,0.85,0.9,0.95],"u":[0.05,0.1,0.15,0.2,0.25,0.3,0.35,0.4,0.45,0.5,0.55,0.6,0.65,0.7,0.75,0.8,0.85,0.9,0.95,1],"v":[0.165,0.160,0.151,0.143,0.135,0.128,0.122,0.117,0.113,0.111,0.109,0.109,0.111,0.115,0.120,0.127,0.136,0.146,0.157,0.170]},
      {"p":"d","l":0.3,"l2":0.35,"t":[0,0.05,0.1,0.15,0.2,0.25,0.3,0.35,0.4,0.45,0.5,0.55,0.6,0.65,0.7,0.75,0.8,0.85,0.9,0.95],"u":[0.05,0.1,0.15,0.2,0.25,0.3,0.35,0.4,0.45,0.5,0.55,0.6,0.65,0.7,0.75,0.8,0.85,0.9,0.95,1],"v":[0.155,0.150,0.143,0.136,0.129,0.123,0.118,0.114,0.110,0.108,0.107,0.107,0.109,0.112,0.117,0.123,0.130,0.138,0.147,0.158]},
      {"p":"d","l":0.35,"l2":0.4,"t":[0,0.05,0.1,0.15,0.2,0.25,0.3,0.35,0.4,0.45,0.5,0.55,0.6,0.65,0.7,0.75,0.8,0.85,0.9,0.95],"u":[0.05,0.1,0.15,0.2,0.25,0.3,0.35,0.4,0.45,0.5,0.55,0.6,0.65,0.7,0.75,0.8,0.85,0.9,0.95,1],"v":[0.146,0.142,0.136,0.130,0.124,0.119,0.115,0.111,0.108,0.106,0.105,0.105,0.107,0.110,0.114,0.119,0.125,0.132,0.140,0.148]},
      {"p":"d","l":0.4,"l2":0.45,"t":[0,0.05,0.1,0.15,0.2,0.25,0.3,0.35,0.4,0.45,0.5,0.55,0.6,0.65,0.7,0.75,0.8,0.85,0.9,0.95],"u":[0.05,0.1,0.15,0.2,0.25,0.3,0.35,0.4,0.45,0.5,0.55,0.6,0.65,0.7,0.75,0.8,0.85,0.9,0.95,1],"v":[0.140,0.136,0.131,0.126,0.121,0.117,0.113,0.109,0.106,0.105,0.104,0.104,0.106,0.108,0.112,0.116,0.121,0.127,0.134,0.142]},
      {"p":"d","l":0.45,"l2":0.5,"t":[0,0.05,0.1,0.15,0.2,0.25,0.3,0.35,0.4,0.45,0.5,0.55,0.6,0.65,0.7,0.75,0.8,0.85,0.9,0.95],"u":[0.05,0.1,0.15,0.2,0.25,0.3,0.35,0.4,0.45,0.5,0.55,0.6,0.65,0.7,0.75,0.8,0.85,0.9,0.95,1],"v":[0.134,0.131,0.127,0.123,0.119,0.115,0.111,0.108,0.105,0.104,0.103,0.103,0.105,0.107,0.110,0.114,0.118,0.123,0.129,0.135]},
      {"p":"d","l":0.5,"l2":0.55,"t":[0,0.05,0.1,0.15,0.2,0.25,0.3,0.35,0.4,0.45,0.5,0.55,0.6,0.65,0.7,0.75,0.8,0.85,0.9,0.95],"u":[0.05,0.1,0.15,0.2,0.25,0.3,0.35,0.4,0.45,0.5,0.55,0.6,0.65,0.7,0.75,0.8,0.85,0.9,0.95,1],"v":[0.130,0.128,0.125,0.121,0.118,0.114,0.111,0.107,0.105,0.103,0.103,0.103,0.104,0.106,0.109,0.113,0.116,0.120,0.125,0.130]},
      {"p":"d","l":0.55,"l2":0.6,"t":[0,0.05,0.1,0.15,0.2,0.25,0.3,0.35,0.4,0.45,0.5,0.55,0.6,0.65,0.7,0.75,0.8,0.85,0.9,0.95],"u":[0.05,0.1,0.15,0.2,0.25,0.3,0.35,0.4,0.45,0.5,0.55,0.6,0.65,0.7,0.75,0.8,0.85,0.9,0.95,1],"v":[0.128,0.126,0.123,0.120,0.117,0.114,0.110,0.107,0.105,0.103,0.103,0.103,0.104,0.106,0.109,0.112,0.115,0.118,0.122,0.126]},
      {"p":"d","l":0.6,"l2":0.65,"t":[0,0.05,0.1,0.15,0.2,0.25,0.3,0.35,0.4,0.45,0.5,0.55,0.6,0.65,0.7,0.75,0.8,0.85,0.9,0.95],"u":[0.05,0.1,0.15,0.2,0.25,0.3,0.35,0.4,0.45,0.5,0.55,0.6,0.65,0.7,0.75,0.8,0.85,0.9,0.95,1],"v":[0.126,0.125,0.122,0.120,0.117,0.114,0.111,0.108,0.106,0.104,0.104,0.104,0.105,0.107,0.109,0.112,0.114,0.117,0.120,0.123]},
      {"p":"d","l":0.65,"l2":0.7,"t":[0,0.05,0.1,0.15,0.2,0.25,0.3,0.35,0.4,0.45,0.5,0.55,0.6,0.65,0.7,0.75,0.8,0.85,0.9,0.95],"u":[0.05,0.1,0.15,0.2,0.25,0.3,0.35,0.4,0.45,0.5,0.55,0.6,0.65,0.7,0.75,0.8,0.85,0.9,0.95,1],"v":[0.125,0.124,0.122,0.120,0.117,0.115,0.112,0.109,0.107,0.106,0.105,0.105,0.106,0.108,0.110,0.112,0.114,0.116,0.119,0.121]},
      {"p":"d","l":0.7,"l2":0.75,"t":[0,0.05,0.1,0.15,0.2,0.25,0.3,0.35,0.4,0.45,0.5,0.55,0.6,0.65,0.7,0.75,0.8,0.85,0.9,0.95],"u":[0.05,0.1,0.15,0.2,0.25,0.3,0.35,0.4,0.45,0.5,0.55,0.6,0.65,0.7,0.75,0.8,0.85,0.9,0.95,1],"v":[0.124,0.123,0.122,0.120,0.118,0.116,0.113,0.111,0.109,0.108,0.107,0.107,0.108,0.109,0.111,0.113,0.115,0.117,0.119,0.120]},
      {"p":"d","l":0.75,"l2":0.8,"t":[0,0.05,0.1,0.15,0.2,0.25,0.3,0.35,0.4,0.45,0.5,0.55,0.6,0.65,0.7,0.75,0.8,0.85,0.9,0.95],"u":[0.05,0.1,0.15,0.2,0.25,0.3,0.35,0.4,0.45,0.5,0.55,0.6,0.65,0.7,0.75,0.8,0.85,0.9,0.95,1],"v":[0.123,0.123,0.122,0.120,0.119,0.117,0.115,0.113,0.111,0.110,0.110,0.110,0.110,0.111,0.113,0.114,0.116,0.117,0.119,0.120]},
      {"p":"d","l":0.8,"l2":0.85,"t":[0,0.05,0.1,0.15,0.2,0.25,0.3,0.35,0.4,0.45,0.5,0.55,0.6,0.65,0.7,0.75,0.8,0.85,0.9,0.95],"u":[0.05,0.1,0.15,0.2,0.25,0.3,0.35,0.4,0.45,0.5,0.55,0.6,0.65,0.7,0.75,0.8,0.85,0.9,0.95,1],"v":[0.122,0.122,0.121,0.120,0.119,0.118,0.117,0.116,0.115,0.114,0.114,0.114,0.114,0.115,0.116,0.117,0.118,0.119,0.120,0.121]},
      {"p":"d","l":0.85,"l2":0.9,"t":[0,0.05,0.1,0.15,0.2,0.25,0.3,0.35,0.4,0.45,0.5,0.55,0.6,0.65,0.7,0.75,0.8,0.85,0.9,0.95],"u":[0.05,0.1,0.15,0.2,0.25,0.3,0.35,0.4,0.45,0.5,0.55,0.6,0.65,0.7,0.75,0.8,0.85,0.9,0.95,1],"v":[0.122,0.122,0.121,0.120,0.119,0.118,0.117,0.116,0.115,0.114,0.114,0.114,0.114,0.115,0.116,0.117,0.118,0.119,0.120,0.121]},
      {"p":"d","l":0.9,"l2":0.95,"t":[0,0.05,0.1,0.15,0.2,0.25,0.3,0.35,0.4,0.45,0.5,0.55,0.6,0.65,0.7,0.75,0.8,0.85,0.9,0.95],"u":[0.05,0.1,0.15,0.2,0.25,0.3,0.35,0.4,0.45,0.5,0.55,0.6,0.65,0.7,0.75,0.8,0.85,0.9,0.95,1],"v":[0.122,0.122,0.121,0.120,0.119,0.118,0.117,0.116,0.115,0.114,0.114,0.114,0.114,0.115,0.116,0.117,0.118,0.119,0.120,0.121]},
      {"p":"d","l":0.95,"l2":1,"t":[0,0.05,0.1,0.15,0.2,0.25,0.3,0.35,0.4,0.45,0.5,0.55,0.6,0.65,0.7,0.75,0.8,0.85,0.9,0.95],"u":[0.05,0.1,0.15,0.2,0.25,0.3,0.35,0.4,0.45,0.5,0.55,0.6,0.65,0.7,0.75,0.8,0.85,0.9,0.95,1],"v":[0.122,0.122,0.121,0.120,0.119,0.118,0.117,0.116,0.115,0.114,0.114,0.114,0.114,0.115,0.116,0.117,0.118,0.119,0.120,0.121]}
    ],
    "curves": [
      {"p":"a","s":1,"k":0,"t":0,"l":0.64},{"p":"a","s":1,"k":1,"t":0.055,"l":0.54},{"p":"a","s":1,"k":2,"t":0.11,"l":0.47},{"p":"a","s":1,"k":3,"t":0.19,"l":0.37},{"p":"a","s":1,"k":4,"t":0.25,"l":0.23},{"p":"a","s":1,"k":5,"t":0.3,"l":0.12},{"p":"a","s":1,"k":6,"t":0.36,"l":0.04},{"p":"a","s":1,"k":7,"t":0.4,"l":0},{"p":"a","s":1,"k":8,"t":0.6,"l":0},{"p":"a","s":1,"k":9,"t":0.656,"l":0.07},{"p":"a","s":1,"k":10,"t":0.708,"l":0.17},{"p":"a","s":1,"k":11,"t":0.773,"l":0.29},{"p":"a","s":1,"k":12,"t":0.839,"l":0.43},{"p":"a","s":1,"k":13,"t":0.891,"l":0.56},{"p":"a","s":1,"k":14,"t":0.943,"l":0.69},{"p":"a","s":1,"k":15,"t":1,"l":0.8},{"p":"a","s":1,"k":16,"t":0.943,"l":0.828},{"p":"a","s":1,"k":17,"t":0.904,"l":0.854},{"p":"a","s":1,"k":18,"t":0.487,"l":0.854},{"p":"a","s":1,"k":19,"t":0.461,"l":0.903},{"p":"a","s":1,"k":20,"t":0.104,"l":0.903},{"p":"a","s":1,"k":21,"t":0.07,"l":0.847},{"p":"a","s":1,"k":22,"t":0,"l":0.847},
      {"p":"b","s":1,"k":0,"t":0.005,"l":0.653},{"p":"b","s":1,"k":1,"t":0.055,"l":0.562},{"p":"b","s":1,"k":2,"t":0.109,"l":0.471},{"p":"b","s":1,"k":3,"t":0.164,"l":0.367},{"p":"b","s":1,"k":4,"t":0.205,"l":0.253},{"p":"b","s":1,"k":5,"t":0.26,"l":0.188},{"p":"b","s":1,"k":6,"t":0.3,"l":0.123},{"p":"b","s":1,"k":7,"t":0.355,"l":0.058},{"p":"b","s":1,"k":8,"t":0.396,"l":0.049},{"p":"b","s":1,"k":9,"t":0.492,"l":0.049},{"p":"b","s":1,"k":10,"t":0.519,"l":0.075},{"p":"b","s":1,"k":11,"t":0.6,"l":0.091},{"p":"b","s":1,"k":12,"t":0.656,"l":0.172},{"p":"b","s":1,"k":13,"t":0.71,"l":0.253},{"p":"b","s":1,"k":14,"t":0.765,"l":0.367},{"p":"b","s":1,"k":15,"t":0.847,"l":0.529},{"p":"b","s":1,"k":16,"t":0.929,"l":0.708},{"p":"b","s":1,"k":17,"t":1,"l":0.847},{"p":"b","s":1,"k":18,"t":0.943,"l":0.886},{"p":"b","s":1,"k":19,"t":0.888,"l":0.903},{"p":"b","s":1,"k":20,"t":0.027,"l":0.903},
      {"p":"c","s":1,"k":0,"t":0,"l":0.753},{"p":"c","s":1,"k":1,"t":0.079,"l":0.649},{"p":"c","s":1,"k":2,"t":0.183,"l":0.471},{"p":"c","s":1,"k":3,"t":0.262,"l":0.292},{"p":"c","s":1,"k":4,"t":0.327,"l":0.13},{"p":"c","s":1,"k":5,"t":0.366,"l":0.049},{"p":"c","s":1,"k":6,"t":0.414,"l":0},{"p":"c","s":1,"k":7,"t":0.484,"l":0},{"p":"c","s":1,"k":8,"t":0.51,"l":0.016},{"p":"c","s":1,"k":9,"t":0.563,"l":0.114},{"p":"c","s":1,"k":10,"t":0.654,"l":0.292},{"p":"c","s":1,"k":11,"t":0.759,"l":0.487},{"p":"c","s":1,"k":12,"t":0.864,"l":0.649},{"p":"c","s":1,"k":13,"t":0.942,"l":0.795},{"p":"c","s":1,"k":14,"t":1,"l":0.851},{"p":"c","s":1,"k":15,"t":0.89,"l":0.877},{"p":"c","s":1,"k":16,"t":0.851,"l":0.909},{"p":"c","s":1,"k":17,"t":0.052,"l":0.909},{"p":"c","s":1,"k":18,"t":0,"l":0.86},
      {"p":"d","s":1,"k":0,"t":0,"l":0.708},{"p":"d","s":1,"k":1,"t":0.044,"l":0.705},{"p":"d","s":1,"k":2,"t":0.091,"l":0.623},{"p":"d","s":1,"k":3,"t":0.159,"l":0.536},{"p":"d","s":1,"k":4,"t":0.228,"l":0.455},{"p":"d","s":1,"k":5,"t":0.297,"l":0.341},{"p":"d","s":1,"k":6,"t":0.365,"l":0.244},{"p":"d","s":1,"k":7,"t":0.448,"l":0.146},{"p":"d","s":1,"k":8,"t":0.503,"l":0.104},{"p":"d","s":1,"k":9,"t":0.571,"l":0.104},{"p":"d","s":1,"k":10,"t":0.626,"l":0.169},{"p":"d","s":1,"k":11,"t":0.681,"l":0.276},{"p":"d","s":1,"k":12,"t":0.723,"l":0.406},{"p":"d","s":1,"k":13,"t":0.758,"l":0.568},{"p":"d","s":1,"k":14,"t":0.791,"l":0.731},{"p":"d","s":1,"k":15,"t":0.846,"l":0.828},{"p":"d","s":1,"k":16,"t":0.929,"l":0.935},
      {"p":"d","s":2,"k":0,"t":0,"l":0.958},{"p":"d","s":2,"k":1,"t":1,"l":0.958}
    ]
  },
  "columns": 2,
  "bounds": "flush",
  "spacing": {"row": 41, "column": 62},
  "resolve": {"scale": {"color": "independent"}, "legend": {"color": "independent"}},
  "concat": [
    {
      "width": 128, "height": 103,
      "title": {"text": "(a)", "dx": -24, "dy": 17},
      "layer": [
        {
          "data": {"name": "cells"},
          "transform": [{"filter": "datum.p === 'a'"}, {"flatten": ["t", "u", "v"]}],
          "mark": {"type": "rect", "stroke": "#ffffff", "strokeWidth": 0.5, "strokeOpacity": 0.3},
          "encoding": {
            "x": {"field": "t", "type": "quantitative", "scale": {"domain": [0, 1], "nice": false}, "axis": {"values": [0, 0.25, 0.5, 0.75, 1], "title": "θ"}},
            "x2": {"field": "u"},
            "y": {"field": "l", "type": "quantitative", "scale": {"domain": [0, 1], "nice": false}, "axis": {"values": [0, 0.2, 0.4, 0.6, 0.8, 1], "title": "λ"}},
            "y2": {"field": "l2"},
            "color": {"field": "v", "type": "quantitative", "scale": {"domain": [0.0713, 0.16], "range": ["#25307c", "#2b4fae", "#3083cf", "#43c2ee", "#8fcc82", "#f1e424", "#f59a1f", "#e2282a", "#8e1b1d"]}, "legend": {"values": [0.08, 0.1, 0.12, 0.14, 0.16], "gradientLength": 103}}
          }
        },
        {
          "data": {"name": "curves"},
          "transform": [{"filter": "datum.p === 'a'"}],
          "mark": {"type": "line", "strokeDash": [5, 3], "color": "#e2e8f6", "strokeWidth": 1.3},
          "encoding": {
            "x": {"field": "t", "type": "quantitative", "axis": {"values": [0, 0.25, 0.5, 0.75, 1], "title": "θ"}},
            "y": {"field": "l", "type": "quantitative", "axis": {"values": [0, 0.2, 0.4, 0.6, 0.8, 1], "title": "λ"}},
            "detail": {"field": "s"},
            "order": {"field": "k", "type": "quantitative"}
          }
        }
      ]
    },
    {
      "width": 122, "height": 103,
      "title": {"text": "(b)", "dx": -23, "dy": 17},
      "layer": [
        {
          "data": {"name": "cells"},
          "transform": [{"filter": "datum.p === 'b'"}, {"flatten": ["t", "u", "v"]}],
          "mark": {"type": "rect", "stroke": "#ffffff", "strokeWidth": 0.5, "strokeOpacity": 0.3},
          "encoding": {
            "x": {"field": "t", "type": "quantitative", "scale": {"domain": [0, 1], "nice": false}, "axis": {"values": [0, 0.25, 0.5, 0.75, 1], "title": "θ"}},
            "x2": {"field": "u"},
            "y": {"field": "l", "type": "quantitative", "scale": {"domain": [0, 1], "nice": false}, "axis": {"values": [0, 0.2, 0.4, 0.6, 0.8, 1], "title": "λ"}},
            "y2": {"field": "l2"},
            "color": {"field": "v", "type": "quantitative", "scale": {"domain": [0.0123, 0.054], "range": ["#25307c", "#2b4fae", "#3083cf", "#43c2ee", "#8fcc82", "#f1e424", "#f59a1f", "#e2282a", "#8e1b1d"]}, "legend": {"values": [0.02, 0.03, 0.04, 0.05], "gradientLength": 103}}
          }
        },
        {
          "data": {"name": "curves"},
          "transform": [{"filter": "datum.p === 'b'"}],
          "mark": {"type": "line", "strokeDash": [5, 3], "color": "#e2e8f6", "strokeWidth": 1.3},
          "encoding": {
            "x": {"field": "t", "type": "quantitative", "axis": {"values": [0, 0.25, 0.5, 0.75, 1], "title": "θ"}},
            "y": {"field": "l", "type": "quantitative", "axis": {"values": [0, 0.2, 0.4, 0.6, 0.8, 1], "title": "λ"}},
            "detail": {"field": "s"},
            "order": {"field": "k", "type": "quantitative"}
          }
        }
      ]
    },
    {
      "width": 128, "height": 102,
      "title": {"text": "(c)", "dx": -24, "dy": 17},
      "layer": [
        {
          "data": {"name": "cells"},
          "transform": [{"filter": "datum.p === 'c'"}, {"flatten": ["t", "u", "v"]}],
          "mark": {"type": "rect", "stroke": "#ffffff", "strokeWidth": 0.5, "strokeOpacity": 0.3},
          "encoding": {
            "x": {"field": "t", "type": "quantitative", "scale": {"domain": [0, 1], "nice": false}, "axis": {"values": [0, 0.25, 0.5, 0.75, 1], "title": "θ"}},
            "x2": {"field": "u"},
            "y": {"field": "l", "type": "quantitative", "scale": {"domain": [0, 1], "nice": false}, "axis": {"values": [0, 0.2, 0.4, 0.6, 0.8, 1], "title": "λ"}},
            "y2": {"field": "l2"},
            "color": {"field": "v", "type": "quantitative", "scale": {"domain": [0.08, 0.303], "range": ["#25307c", "#2b4fae", "#3083cf", "#43c2ee", "#8fcc82", "#f1e424", "#f59a1f", "#e2282a", "#8e1b1d"]}, "legend": {"values": [0.1, 0.15, 0.2, 0.25, 0.3], "gradientLength": 102}}
          }
        },
        {
          "data": {"name": "curves"},
          "transform": [{"filter": "datum.p === 'c'"}],
          "mark": {"type": "line", "strokeDash": [5, 3], "color": "#e2e8f6", "strokeWidth": 1.3},
          "encoding": {
            "x": {"field": "t", "type": "quantitative", "axis": {"values": [0, 0.25, 0.5, 0.75, 1], "title": "θ"}},
            "y": {"field": "l", "type": "quantitative", "axis": {"values": [0, 0.2, 0.4, 0.6, 0.8, 1], "title": "λ"}},
            "detail": {"field": "s"},
            "order": {"field": "k", "type": "quantitative"}
          }
        }
      ]
    },
    {
      "width": 122, "height": 102,
      "title": {"text": "(d)", "dx": -23, "dy": 17},
      "layer": [
        {
          "data": {"name": "cells"},
          "transform": [{"filter": "datum.p === 'd'"}, {"flatten": ["t", "u", "v"]}],
          "mark": {"type": "rect", "stroke": "#ffffff", "strokeWidth": 0.5, "strokeOpacity": 0.3},
          "encoding": {
            "x": {"field": "t", "type": "quantitative", "scale": {"domain": [0, 1], "nice": false}, "axis": {"values": [0, 0.25, 0.5, 0.75, 1], "title": "θ"}},
            "x2": {"field": "u"},
            "y": {"field": "l", "type": "quantitative", "scale": {"domain": [0, 1], "nice": false}, "axis": {"values": [0, 0.2, 0.4, 0.6, 0.8, 1], "title": "λ"}},
            "y2": {"field": "l2"},
            "color": {"field": "v", "type": "quantitative", "scale": {"domain": [0.1, 0.302], "range": ["#25307c", "#2b4fae", "#3083cf", "#43c2ee", "#8fcc82", "#f1e424", "#f59a1f", "#e2282a", "#8e1b1d"]}, "legend": {"values": [0.1, 0.15, 0.2, 0.25, 0.3], "gradientLength": 102}}
          }
        },
        {
          "data": {"name": "curves"},
          "transform": [{"filter": "datum.p === 'd'"}],
          "mark": {"type": "line", "strokeDash": [5, 3], "color": "#e2e8f6", "strokeWidth": 1.3},
          "encoding": {
            "x": {"field": "t", "type": "quantitative", "axis": {"values": [0, 0.25, 0.5, 0.75, 1], "title": "θ"}},
            "y": {"field": "l", "type": "quantitative", "axis": {"values": [0, 0.2, 0.4, 0.6, 0.8, 1], "title": "λ"}},
            "detail": {"field": "s"},
            "order": {"field": "k", "type": "quantitative"}
          }
        }
      ]
    }
  ]
}
